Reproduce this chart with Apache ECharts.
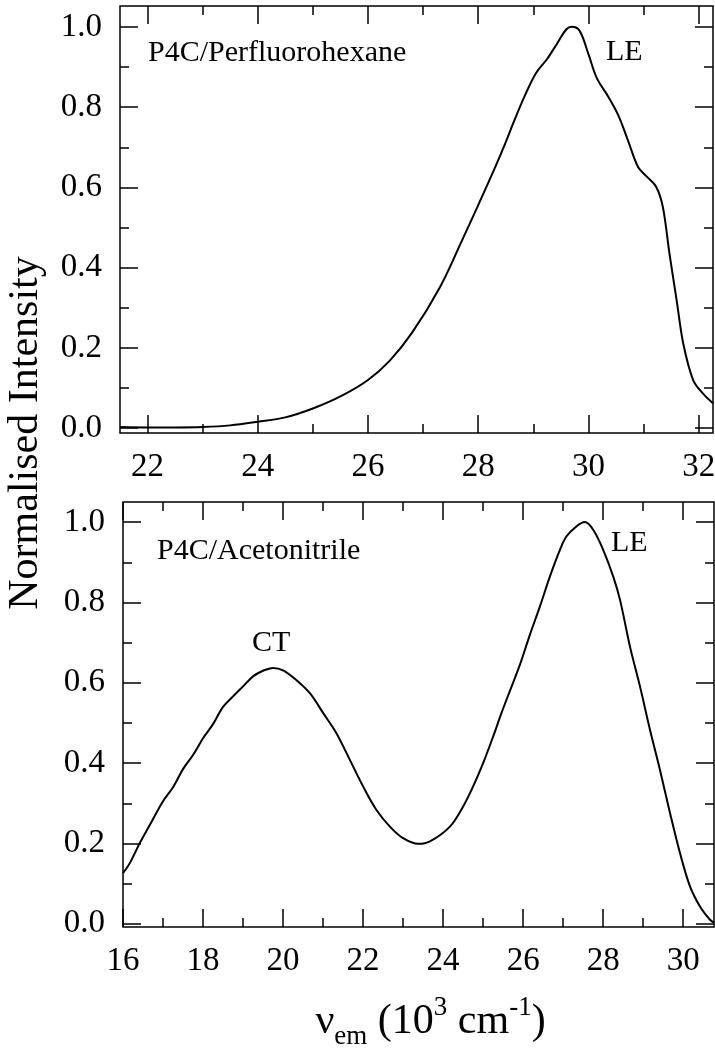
<!DOCTYPE html>
<html><head><meta charset="utf-8">
<script src="https://cdn.jsdelivr.net/npm/echarts@6/dist/echarts.min.js"></script>
<style>html,body{margin:0;padding:0;background:#fff}#c{width:715px;height:1055px}</style>
</head><body><div id="c"></div>
<script>
// ---- data (wavenumber in 10^3 cm^-1, normalised intensity) ----
const topX = [21.5, 22.0, 22.5, 23.0, 23.5, 24.0, 24.5, 25.0, 25.5, 26.0, 26.4, 26.8, 27.3, 27.7, 28.0, 28.3, 28.5, 28.65, 28.85, 29.05, 29.25, 29.43, 29.6, 29.7, 29.84, 30.0, 30.15, 30.36, 30.54, 30.72, 30.9, 31.05, 31.23, 31.35, 31.47, 31.6, 31.72, 31.9, 32.08, 32.26];
const topY = [0.003, 0.002, 0.002, 0.003, 0.007, 0.016, 0.027, 0.049, 0.079, 0.12, 0.169, 0.238, 0.35, 0.466, 0.556, 0.648, 0.713, 0.765, 0.83, 0.885, 0.92, 0.958, 0.994, 1.0, 0.99, 0.932, 0.873, 0.826, 0.78, 0.716, 0.651, 0.628, 0.601, 0.551, 0.435, 0.319, 0.211, 0.12, 0.086, 0.062];
const botX = [16.0, 16.17, 16.42, 16.67, 17.0, 17.25, 17.5, 17.75, 18.0, 18.25, 18.5, 18.75, 19.0, 19.25, 19.5, 19.75, 20.0, 20.33, 20.67, 21.0, 21.33, 21.67, 22.0, 22.33, 22.67, 23.0, 23.38, 23.67, 24.17, 24.5, 24.75, 25.0, 25.25, 25.46, 25.67, 25.92, 26.17, 26.42, 26.67, 26.92, 27.08, 27.33, 27.54, 27.75, 28.0, 28.25, 28.42, 28.67, 28.92, 29.17, 29.42, 29.67, 29.92, 30.17, 30.42, 30.67, 30.77];
const botY = [0.126, 0.151, 0.201, 0.246, 0.305, 0.34, 0.385, 0.42, 0.462, 0.497, 0.54, 0.566, 0.591, 0.616, 0.63, 0.637, 0.631, 0.607, 0.574, 0.525, 0.475, 0.408, 0.342, 0.284, 0.242, 0.213, 0.199, 0.205, 0.242, 0.292, 0.342, 0.4, 0.466, 0.525, 0.58, 0.645, 0.72, 0.79, 0.865, 0.931, 0.964, 0.989, 1.0, 0.981, 0.931, 0.865, 0.807, 0.69, 0.591, 0.483, 0.383, 0.276, 0.176, 0.093, 0.043, 0.01, 0.003];
const topXMajor = [22, 24, 26, 28, 30, 32];
const topXMinor = [23, 25, 27, 29, 31];
const botXMajor = [16, 18, 20, 22, 24, 26, 28, 30];
const botXMinor = [17, 19, 21, 23, 25, 27, 29];
const yMajor = [0, 0.2, 0.4, 0.6, 0.8, 1.0];
const yMinor = [0.1, 0.3, 0.5, 0.7, 0.9];
const topLabel = 'P4C/Perfluorohexane';
const botLabel = 'P4C/Acetonitrile';

// ---- chart ----
const FONT = 'Liberation Serif';
const BLACK = '#000';
const tickStyle = {color: BLACK, width: 1.5};

function xAxes(gi, min, max, major, minor) {
  const base = {type: 'value', gridIndex: gi, min: min, max: max, splitLine: {show: false},
                axisLine: {show: false, onZero: false}};
  return [
    Object.assign({}, base, {position: 'bottom',
      axisTick: {inside: true, length: 18, customValues: major, lineStyle: tickStyle},
      axisLabel: {customValues: major, margin: 18, fontSize: 33, fontFamily: FONT, color: BLACK}}),
    Object.assign({}, base, {position: 'top',
      axisTick: {inside: true, length: 18, customValues: major, lineStyle: tickStyle},
      axisLabel: {show: false}}),
    Object.assign({}, base, {position: 'bottom',
      axisTick: {inside: true, length: 9, customValues: minor, lineStyle: tickStyle},
      axisLabel: {show: false}}),
    Object.assign({}, base, {position: 'top',
      axisTick: {inside: true, length: 9, customValues: minor, lineStyle: tickStyle},
      axisLabel: {show: false}})
  ];
}
function yAxes(gi, min, max) {
  const base = {type: 'value', gridIndex: gi, min: min, max: max, splitLine: {show: false},
                axisLine: {show: false, onZero: false}};
  return [
    Object.assign({}, base, {position: 'left',
      axisTick: {inside: true, length: 18, customValues: yMajor, lineStyle: tickStyle},
      axisLabel: {customValues: yMajor, margin: 18, fontSize: 33, fontFamily: FONT, color: BLACK,
                  formatter: v => Number(v).toFixed(1)}}),
    Object.assign({}, base, {position: 'right',
      axisTick: {inside: true, length: 18, customValues: yMajor, lineStyle: tickStyle},
      axisLabel: {show: false}}),
    Object.assign({}, base, {position: 'left',
      axisTick: {inside: true, length: 9, customValues: yMinor, lineStyle: tickStyle},
      axisLabel: {show: false}}),
    Object.assign({}, base, {position: 'right',
      axisTick: {inside: true, length: 9, customValues: yMinor, lineStyle: tickStyle},
      axisLabel: {show: false}})
  ];
}

const xa = xAxes(0, 21.5, 32.26, topXMajor, topXMinor).concat(xAxes(1, 16, 30.77, botXMajor, botXMinor));
// x-axis title on bottom panel
xa[4].name = '{a|ν}{s|em}{a| (10}{p|3}{a| cm}{p|-1}{a|)}';
xa[4].nameLocation = 'middle';
xa[4].nameGap = 67;
xa[4].nameTextStyle = {
  padding: [0, 0, 0, 24],
  rich: {
    a: {fontSize: 42, fontFamily: FONT, color: BLACK, lineHeight: 56},
    s: {fontSize: 27, fontFamily: FONT, color: BLACK, lineHeight: 27, verticalAlign: 'bottom'},
    p: {fontSize: 27, fontFamily: FONT, color: BLACK, lineHeight: 27, verticalAlign: 'top'}
  }
};
const ya = yAxes(0, -0.012, 1.052).concat(yAxes(1, -0.008, 1.05));

const annot = (x, y, text) => ({type: 'text', x: x, y: y,
  style: {text: text, fontSize: 30, fontFamily: FONT, fill: BLACK, align: 'left', verticalAlign: 'middle'}});

const chart = echarts.init(document.getElementById('c'), null, {renderer: 'canvas'});
chart.setOption({
  backgroundColor: '#fff',
  animation: false,
  grid: [
    {left: 120, top: 6, width: 593, height: 427, show: true, borderColor: BLACK, borderWidth: 1.5, outerBoundsMode: 'none'},
    {left: 123, top: 502, width: 591, height: 425, show: true, borderColor: BLACK, borderWidth: 1.5, outerBoundsMode: 'none'}
  ],
  xAxis: xa,
  yAxis: ya,
  series: [
    {type: 'line', xAxisIndex: 0, yAxisIndex: 0, showSymbol: false, smooth: 0.35,
     lineStyle: {color: BLACK, width: 2}, data: topX.map((x, i) => [x, topY[i]])},
    {type: 'line', xAxisIndex: 4, yAxisIndex: 4, showSymbol: false, smooth: 0.35,
     lineStyle: {color: BLACK, width: 2}, data: botX.map((x, i) => [x, botY[i]])}
  ],
  graphic: [
    annot(148, 53, topLabel),
    annot(606, 52, 'LE'),
    annot(157, 551, botLabel),
    annot(252, 643, 'CT'),
    annot(611, 543, 'LE'),
    {type: 'text', x: 26, y: 433, rotation: Math.PI / 2,
     style: {text: 'Normalised Intensity', fontSize: 42, fontFamily: FONT, fill: BLACK, align: 'center', verticalAlign: 'middle'}}
  ]
});
</script></body></html>
